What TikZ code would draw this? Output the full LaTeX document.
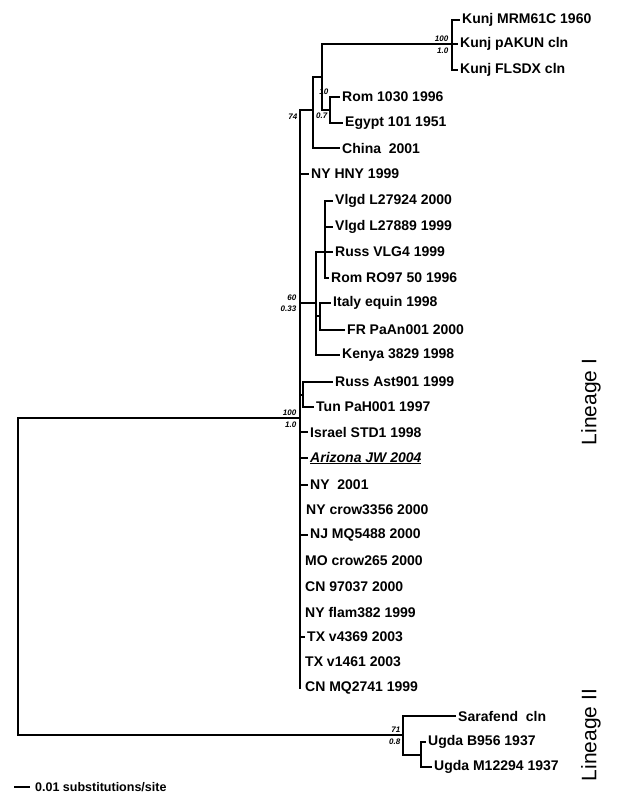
\documentclass[tikz,border=0pt]{standalone}
\usepackage{fontspec}
\setmainfont{Liberation Sans}
\begin{document}
\begin{tikzpicture}[x=1pt,y=-1pt,
  br/.style={line width=1.6pt, line cap=rect},
  leaf/.style={anchor=west, inner sep=0pt, font=\fontsize{14}{16}\selectfont\bfseries},
  bs/.style={inner sep=0.5pt, font=\fontsize{8}{9}\selectfont\bfseries\itshape},
  lin/.style={rotate=90, inner sep=0pt, font=\fontsize{21}{24}\selectfont}]
\fill[white] (0,0) rectangle (620,795);
\useasboundingbox (0,0) rectangle (620,795);
% leaves
\node[leaf] (k1) at (462,20) {Kunj MRM61C 1960};
\node[leaf] (k2) at (460,44) {Kunj pAKUN cln};
\node[leaf] (k3) at (460,70) {Kunj FLSDX cln};
\node[leaf] (r1) at (342,97) {Rom 1030 1996};
\node[leaf] (e1) at (345,123) {Egypt 101 1951};
\node[leaf] (c1) at (342,148) {China\ \ 2001};
\node[leaf] (n1) at (311,174) {NY HNY 1999};
\node[leaf] (v1) at (335,201) {Vlgd L27924 2000};
\node[leaf] (v2) at (335,227) {Vlgd L27889 1999};
\node[leaf] (v3) at (335,252) {Russ VLG4 1999};
\node[leaf] (v4) at (331,278) {Rom RO97 50 1996};
\node[leaf] (i1) at (333,303) {Italy equin 1998};
\node[leaf] (f1) at (347,330) {FR PaAn001 2000};
\node[leaf] (ke) at (342,355) {Kenya 3829 1998};
\node[leaf] (ra) at (335,382) {Russ Ast901 1999};
\node[leaf] (t1) at (316,407) {Tun PaH001 1997};
\node[leaf] (is) at (310,432) {Israel STD1 1998};
\node[leaf] (az) at (310,458) {\underline{\itshape Arizona JW 2004}};
\node[leaf] (ny2) at (310,485) {NY\ \ 2001};
\node[leaf] (nyc) at (306,510) {NY crow3356 2000};
\node[leaf] (nj) at (310,535) {NJ MQ5488 2000};
\node[leaf] (mo) at (305,561) {MO crow265 2000};
\node[leaf] (cna) at (305,587) {CN 97037 2000};
\node[leaf] (nyf) at (305,612) {NY flam382 1999};
\node[leaf] (tx1) at (307,637) {TX v4369 2003};
\node[leaf] (tx2) at (305,662) {TX v1461 2003};
\node[leaf] (cnb) at (305,688) {CN MQ2741 1999};
\node[leaf] (s) at (458,716) {Sarafend\ \ cln};
\node[leaf] (u1) at (428,742) {Ugda B956 1937};
\node[leaf] (u2) at (434,767) {Ugda M12294 1937};
% internal nodes
\coordinate (root) at (18,576);
\coordinate (L1) at (300,418);
\coordinate (L2) at (403,735);
\coordinate (nK) at (452,44);
\coordinate (nKRE) at (322,77);
\coordinate (nRE) at (330,110);
\coordinate (nA) at (313,110);
\coordinate (nB) at (300,110);
\coordinate (bot) at (300,688);
\coordinate (m60) at (300,303);
\coordinate (nC) at (316,303);
\coordinate (nV) at (325,252);
\coordinate (nD) at (320,316);
\coordinate (mRA) at (300,395);
\coordinate (nRA) at (303,395);
\coordinate (nU) at (421,755);
% branches
\draw[br] (L1) -| (root) |- (L2);
\draw[br] (nK|-k1.west) -- (nK|-k3.west);
\foreach \n in {k1,k2,k3} \draw[br] (nK|-\n.west) -- ([xshift=-3pt]\n.west);
\draw[br] (nK) -| (nKRE) |- (nRE);
\draw[br] (nRE|-r1.west) -- (nRE|-e1.west);
\foreach \n in {r1,e1} \draw[br] (nRE|-\n.west) -- ([xshift=-3pt]\n.west);
\draw[br] (nKRE) -| (nA) |- ([xshift=-3pt]c1.west);
\draw[br] (nB) -- (nA);
\draw[br] (nB) -- (bot);
\foreach \n in {n1,is,az,ny2,nj,tx1} \draw[br] (nB|-\n.west) -- ([xshift=-3pt]\n.west);
\draw[br] (m60) -- (nC);
\draw[br] (nC|-nV) -- (nC|-ke.west) -- ([xshift=-3pt]ke.west);
\draw[br] (nC|-nV) -- (nV);
\draw[br] (nV|-v1.west) -- (nV|-v4.west);
\foreach \n in {v1,v2,v3,v4} \draw[br] (nV|-\n.west) -- ([xshift=-3pt]\n.west);
\draw[br] (nC|-nD) -- (nD);
\draw[br] (nD|-i1.west) -- (nD|-f1.west);
\foreach \n in {i1,f1} \draw[br] (nD|-\n.west) -- ([xshift=-3pt]\n.west);
\draw[br] (mRA) -- (nRA);
\draw[br] (nRA|-ra.west) -- (nRA|-t1.west);
\foreach \n in {ra,t1} \draw[br] (nRA|-\n.west) -- ([xshift=-3pt]\n.west);
\draw[br] ([xshift=-3pt]s.west) -| (L2) |- (nU);
\draw[br] (nU|-u1.west) -- (nU|-u2.west);
\foreach \n in {u1,u2} \draw[br] (nU|-\n.west) -- ([xshift=-3pt]\n.west);
% support values
\node[bs, anchor=south east] (b1) at (449,42) {100};
\node[bs, anchor=north east] (b2) at (449,47) {1.0};
\node[bs, anchor=south east] (b3) at (329,95) {10};
\node[bs, anchor=north east] (b4) at (328,112) {0.7};
\node[bs, anchor=east] (b5) at (298,117) {74};
\node[bs, anchor=south east] (b6) at (297,301) {60};
\node[bs, anchor=north east] (b7) at (297,305) {0.33};
\node[bs, anchor=south east] (b8) at (297,416) {100};
\node[bs, anchor=north east] (b9) at (297,421) {1.0};
\node[bs, anchor=south east] (b10) at (401,733) {71};
\node[bs, anchor=north east] (b11) at (401,738) {0.8};
% scale bar
\coordinate (sb1) at (14,787);
\coordinate (sb2) at (30,787);
\draw[line width=1.2pt] (sb1) -- (sb2);
\node[anchor=west, inner sep=0pt, font=\fontsize{12.5}{14}\selectfont\bfseries] (sbt) at (35,787) {0.01 substitutions/site};
% lineage labels
\node[lin] (lin1) at (591,402) {Lineage I};
\node[lin] (lin2) at (591,735) {Lineage II};
\end{tikzpicture}
\end{document}
